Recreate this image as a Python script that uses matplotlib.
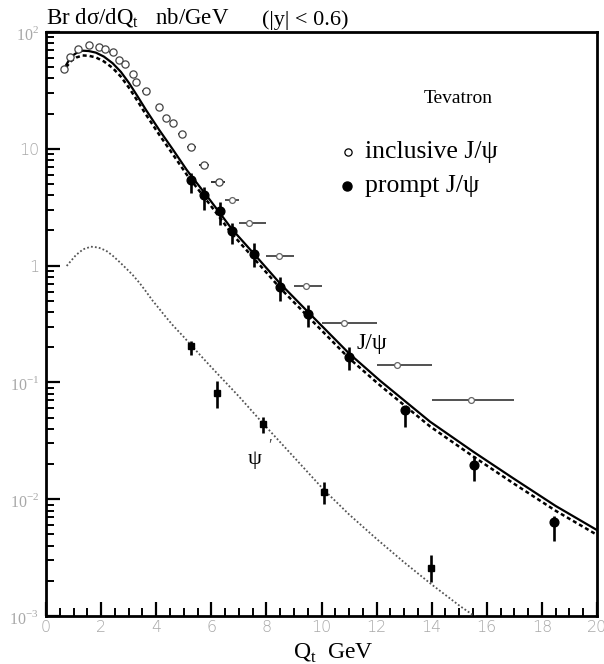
import numpy as np
import matplotlib
matplotlib.use('Agg')
import matplotlib.pyplot as plt
from matplotlib.ticker import FixedLocator, FixedFormatter, MultipleLocator, NullFormatter

plt.rcParams['font.family'] = ['Liberation Serif', 'DejaVu Serif']
plt.rcParams['mathtext.fontset'] = 'custom'
plt.rcParams['mathtext.rm'] = 'Liberation Serif'

# inclusive J/psi (open circles), with bin edges
incl_x = [0.65, 0.87, 1.15, 1.57, 1.93, 2.14, 2.42, 2.64, 2.86, 3.15, 3.27, 3.63,
          4.11, 4.34, 4.62, 4.93, 5.27, 5.73, 6.27, 6.74, 7.38, 8.45, 9.43, 10.82,
          12.74, 15.44]
incl_y = [48, 61, 71, 77, 75, 71, 67, 58, 53, 44, 37, 31,
          23, 18.4, 16.7, 13.4, 10.3, 7.3, 5.17, 3.65, 2.32, 1.22, 0.668, 0.321,
          0.140, 0.071]
incl_lo = [0.6, 0.8, 1.05, 1.5, 1.85, 2.05, 2.3, 2.55, 2.75, 3.05, 3.15, 3.5,
           4.0, 4.25, 4.5, 4.8, 5.1, 5.55, 6.0, 6.5, 7.0, 8.0, 9.0, 10.0,
           12.0, 14.0]
incl_hi = [0.7, 0.95, 1.25, 1.65, 2.0, 2.25, 2.55, 2.75, 3.0, 3.25, 3.4, 3.75,
           4.25, 4.45, 4.75, 5.05, 5.45, 5.9, 6.5, 7.0, 8.0, 9.0, 10.0, 12.0,
           14.0, 17.0]

# prompt J/psi (filled circles)
prompt_x = [5.26, 5.75, 6.32, 6.74, 7.54, 8.49, 9.5, 11.0, 13.03, 15.55, 18.45]
prompt_y = [5.41, 4.02, 2.93, 1.98, 1.26, 0.652, 0.385, 0.166, 0.058, 0.0196, 0.0064]
prompt_hi = [6.21, 4.74, 3.52, 2.32, 1.56, 0.803, 0.460, 0.201, 0.0604, 0.0234, 0.00718]
prompt_lo = [4.19, 2.99, 2.23, 1.53, 0.972, 0.500, 0.298, 0.128, 0.0415, 0.0143, 0.00438]

# psi(2S) points (filled squares)
psi2_x = [5.26, 6.22, 7.87, 10.09, 13.97]
psi2_y = [0.205, 0.0817, 0.0438, 0.0116, 0.00258]
psi2_hi = [0.2275, 0.103, 0.0508, 0.0141, 0.00333]
psi2_lo = [0.172, 0.060, 0.0366, 0.00904, 0.00195]

# theory curves
jpsi_x = [0.73, 0.91, 1.1, 1.33, 1.55, 1.81, 2.1, 2.42, 2.72, 3.02, 3.32, 3.63,
          4.11, 4.6, 5.11, 5.95, 6.75, 7.55, 8.49, 9.5, 11.0, 12.12, 13.94,
          15.51, 16.96, 18.5, 20.0]
jpsi_sol = [52.1, 61.5, 66.0, 69.2, 68.7, 66.6, 61.6, 54.0, 45.5, 36.4, 28.2, 21.5,
            14.5, 9.9, 6.58, 3.65, 2.05, 1.26, 0.705, 0.403, 0.177, 0.1037, 0.0461,
            0.0255, 0.0151, 0.00875, 0.00544]
jpsi_dsh = [49.9, 56.5, 60.5, 63.0, 62.6, 60.6, 56.0, 49.2, 41.4, 33.1, 25.7, 19.6,
            13.2, 9.0, 6.0, 3.33, 1.87, 1.15, 0.645, 0.368, 0.161, 0.0945, 0.0420,
            0.0232, 0.0137, 0.00796, 0.00495]

psi2_cx = [0.75, 1.09, 1.35, 1.63, 1.9, 2.18, 2.42, 2.66, 2.9, 3.15, 3.4, 3.63,
           3.87, 4.11, 4.35, 4.6, 5.0, 5.26, 6.0, 7.0, 7.87, 9.0, 10.09, 11.0,
           12.0, 13.0, 14.0, 15.0, 15.6]
psi2_cy = [0.993, 1.233, 1.380, 1.452, 1.429, 1.343, 1.216, 1.079, 0.951, 0.830,
           0.708, 0.600, 0.501, 0.427, 0.363, 0.309, 0.245, 0.209, 0.135, 0.0759,
           0.0447, 0.0229, 0.0120, 0.00741, 0.00457, 0.00288, 0.00186, 0.00123,
           0.00098]

fig = plt.figure(figsize=(6.04, 6.64), dpi=100)
ax = fig.add_axes([46 / 604, 1 - 616 / 664, 551 / 604, 584 / 664])

ax.plot(jpsi_x, jpsi_sol, color='black', lw=1.6, zorder=3)
ax.plot(jpsi_x, jpsi_dsh, color='black', lw=1.8, linestyle=(0, (1.6, 1.2)), zorder=3)
ax.plot(psi2_cx, psi2_cy, color='#555555', lw=1.3, linestyle=(0, (1, 1.2)), zorder=3)

incl_x = np.array(incl_x)
xerr = [incl_x - np.array(incl_lo), np.array(incl_hi) - incl_x]
n1 = 19
ax.errorbar(incl_x[:n1], incl_y[:n1], xerr=[xerr[0][:n1], xerr[1][:n1]], fmt='o',
            ms=5.2, mfc='white', mec='#444444', mew=0.9, ecolor='#222222',
            elinewidth=1.3, capsize=0, zorder=4)
ax.errorbar(incl_x[n1:], incl_y[n1:], xerr=[xerr[0][n1:], xerr[1][n1:]], fmt='o',
            ms=4.2, mfc='white', mec='#666666', mew=0.9, ecolor='#333333',
            elinewidth=1.2, capsize=0, zorder=4)

py = np.array(prompt_y)
ax.errorbar(prompt_x, py, yerr=[py - np.array(prompt_lo), np.array(prompt_hi) - py],
            fmt='o', ms=6.3, color='black', elinewidth=1.9, capsize=0, zorder=5)

sy = np.array(psi2_y)
ax.errorbar(psi2_x, sy, yerr=[sy - np.array(psi2_lo), np.array(psi2_hi) - sy],
            fmt='s', ms=4.0, color='black', elinewidth=1.9, capsize=0, zorder=5)

ax.set_yscale('log')
ax.set_xlim(0, 20)
ax.set_ylim(1e-3, 1e2)

ax.xaxis.set_major_locator(MultipleLocator(2))
ax.xaxis.set_minor_locator(MultipleLocator(0.5))
ax.yaxis.set_major_locator(FixedLocator([1e-3, 1e-2, 1e-1, 1, 10, 100]))
ax.yaxis.set_major_formatter(FixedFormatter(
    [r'$10^{-3}$', r'$10^{-2}$', r'$10^{-1}$', '1', '10', r'$10^{2}$']))
minors = [m * 10.0 ** e for e in range(-3, 2) for m in range(2, 10)]
ax.yaxis.set_minor_locator(FixedLocator(minors))
ax.yaxis.set_minor_formatter(NullFormatter())

ax.tick_params(which='both', direction='in', top=False, right=False,
               labelcolor='#a8a8a8', labelsize=11.5, color='black')
ax.tick_params(which='major', length=10, width=1.6, pad=5)
ax.tick_params(axis='x', which='major', pad=3)
ax.tick_params(which='minor', length=6, width=1.4)
for lab in ax.get_xticklabels() + ax.get_yticklabels():
    lab.set_family('DejaVu Sans')
    lab.set_fontweight('light')
for side in ['left', 'bottom', 'top', 'right']:
    ax.spines[side].set_linewidth(2.0)

ax.text(0.0, 1.004, 'Br dσ/dQ$_{\\rm t}$   nb/GeV', transform=ax.transAxes,
        ha='left', va='bottom', fontsize=16.5)
ax.text(0.392, 1.004, '(|y| < 0.6)', transform=ax.transAxes,
        ha='left', va='bottom', fontsize=16)
ax.text(14.95, 27.2, 'Tevatron', ha='center', va='center', fontsize=14)

ax.plot([10.96], [9.4], 'o', ms=5.2, mfc='white', mec='black', mew=0.9)
ax.text(11.58, 9.4, 'inclusive J/ψ', ha='left', va='center', fontsize=18.5)
ax.plot([10.93], [4.8], 'o', ms=6.5, color='black')
ax.text(11.58, 4.8, 'prompt J/ψ', ha='left', va='center', fontsize=18.5)

ax.text(11.83, 0.217, 'J/ψ', ha='center', va='center', fontsize=17)
ax.text(7.59, 0.0217, 'ψ', ha='center', va='center', fontsize=16)
ax.text(8.13, 0.0285, '′', ha='center', va='center', fontsize=12, color='#444444')

fig.text(333 / 604, 1 - 653 / 664, 'Q$_{\\rm t}$  GeV', ha='center', va='center',
         fontsize=17)

fig.savefig('out.png', dpi=100)
